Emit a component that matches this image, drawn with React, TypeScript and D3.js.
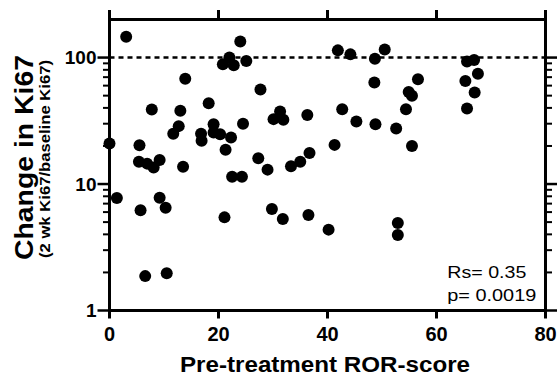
import React from "react";
import * as d3 from "d3";

const rorScore = [
  3.06, 24.0, 20.8, 22.0, 22.8, 25.1, 13.9, 18.2, 7.76, 13.0, 12.7, 11.7, 19.1, 24.5, 16.8, 16.9, 19.1, 20.3, 22.3, 21.3,
  0, 5.5, 5.4, 6.9, 8.1, 9.2, 13.5, 41.9, 44.2, 48.7, 50.5, 27.7, 48.6, 30.1, 31.3, 31.9, 36.3, 42.7, 45.3, 48.8,
  52.6, 41.3, 27.3, 29.0, 33.3, 35.0, 36.7, 56.6, 54.9, 55.5, 54.4, 55.5, 65.6, 66.9, 67.6, 65.3, 67.0, 65.6, 22.5, 24.3,
  1.35, 9.2, 10.3, 5.7, 21.1, 6.55, 10.5, 29.8, 31.8, 36.5, 40.2, 52.9, 52.9,
];
const ki67Change = [
  146, 134, 88.5, 100, 87, 94, 68, 43.6, 38.8, 37.9, 28.7, 25, 29.7, 30, 25, 22, 25.6, 24.8, 23.3, 18.7,
  20.9, 20.3, 15, 14.5, 13.5, 15.5, 13.7, 114, 106, 98, 116, 56, 63.4, 32.6, 37.4, 32.2, 35.2, 39, 31.2, 29.7,
  27.5, 20.4, 16, 13.0, 13.8, 15, 17.6, 67.4, 53.5, 49.8, 39, 20, 93, 95.7, 74.6, 65.4, 52.9, 39.5, 11.4, 11.4,
  7.75, 7.8, 6.5, 6.2, 5.45, 1.87, 1.97, 6.35, 5.3, 5.7, 4.36, 4.92, 3.96,
];

const xTicks = [0, 20, 40, 60, 80];
const yMajorTicks = [1, 10, 100];
const yMinorTicks = [2, 3, 4, 5, 6, 7, 8, 9, 20, 30, 40, 50, 60, 70, 80, 90];
const referenceLine = 100;
const statLines = ["Rs= 0.35", "p= 0.0019"];

const W = 557;
const H = 376;
const left = 109.5;
const right = 545.5;
const top = 19.5;
const bottom = 310.5;

export default function App() {
  const x = d3.scaleLinear().domain([0, 80]).range([left, right]);
  const y = d3.scaleLog().domain([1, 200]).range([bottom, top]);
  const font = "Arial, Liberation Sans, Helvetica, sans-serif";

  return (
    <div style={{ position: "absolute", left: 0, top: 0 }}>
      <svg width={W} height={H} style={{ display: "block", background: "#fff" }}>
        <line
          x1={left}
          x2={right}
          y1={y(referenceLine)}
          y2={y(referenceLine)}
          stroke="#000"
          strokeWidth={2.5}
          strokeDasharray="5,4"
        />
        {rorScore.map((v, i) => (
          <circle key={i} cx={x(v)} cy={y(ki67Change[i])} r={6} fill="#000" />
        ))}
        <rect x={left} y={top} width={right - left} height={bottom - top} fill="none" stroke="#000" strokeWidth={3} />
        {xTicks.map((t) => (
          <g key={"xt" + t}>
            <line x1={x(t)} x2={x(t)} y1={top} y2={top - 9.5} stroke="#000" strokeWidth={3} />
            <line x1={x(t)} x2={x(t)} y1={bottom} y2={bottom + 8} stroke="#000" strokeWidth={3} />
            <text
              x={x(t)}
              y={341}
              textAnchor="middle"
              fontFamily={font}
              fontWeight="bold"
              fontSize={20}
              fill="#000"
            >
              {t}
            </text>
          </g>
        ))}
        {yMajorTicks.map((t) => (
          <g key={"ym" + t}>
            <line x1={left} x2={left - 12} y1={y(t)} y2={y(t)} stroke="#000" strokeWidth={2.5} />
            <line x1={right} x2={right + 12} y1={y(t)} y2={y(t)} stroke="#000" strokeWidth={2.5} />
            <text
              x={96.5}
              y={y(t)}
              dy="0.36em"
              textAnchor="end"
              fontFamily={font}
              fontWeight="bold"
              fontSize={19}
              fill="#000"
            >
              {t}
            </text>
          </g>
        ))}
        {yMinorTicks.map((t) => (
          <g key={"yn" + t}>
            <line x1={left} x2={left - 6.5} y1={y(t)} y2={y(t)} stroke="#000" strokeWidth={2} />
            <line x1={right} x2={right + 6.5} y1={y(t)} y2={y(t)} stroke="#000" strokeWidth={2} />
          </g>
        ))}
        <text x={447.3} y={278} fontFamily={font} fontSize={17} fill="#000" textLength={79} lengthAdjust="spacingAndGlyphs">
          {statLines[0]}
        </text>
        <text x={447.3} y={300.5} fontFamily={font} fontSize={17} fill="#000" textLength={89} lengthAdjust="spacingAndGlyphs">
          {statLines[1]}
        </text>
        <text
          x={325}
          y={372}
          textAnchor="middle"
          fontFamily={font}
          fontWeight="bold"
          fontSize={22}
          fill="#000"
          textLength={290}
          lengthAdjust="spacingAndGlyphs"
        >
          Pre-treatment ROR-score
        </text>
        <text
          transform="translate(32.5,157.5) rotate(-90)"
          textAnchor="middle"
          fontFamily={font}
          fontWeight="bold"
          fontSize={25}
          fill="#000"
          textLength={205}
          lengthAdjust="spacingAndGlyphs"
        >
          Change in Ki67
        </text>
        <text
          transform="translate(49.5,159) rotate(-90)"
          textAnchor="middle"
          fontFamily={font}
          fontWeight="bold"
          fontSize={15}
          fill="#000"
          textLength={198}
          lengthAdjust="spacingAndGlyphs"
        >
          (2 wk Ki67/baseline Ki67)
        </text>
      </svg>
    </div>
  );
}
